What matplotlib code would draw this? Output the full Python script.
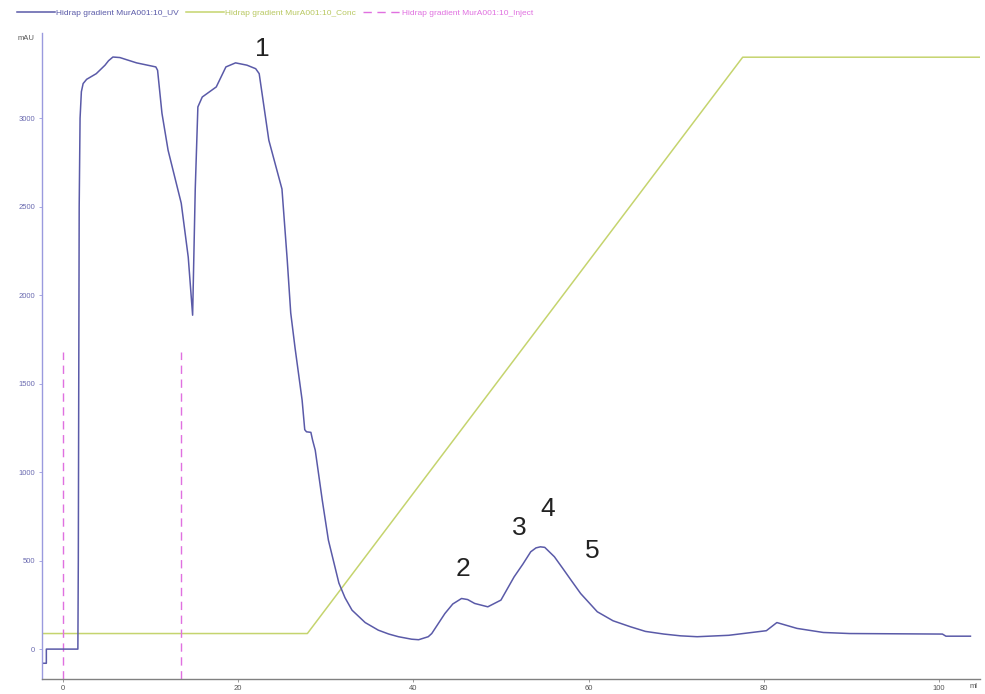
import matplotlib
matplotlib.use('Agg')
import matplotlib.pyplot as plt

# UV-Spur (ml, mAU)
uv_ml = [-2.4, -1.9, -1.9, 1.5, 1.7, 1.75, 1.8, 1.85, 1.95, 2.1, 2.3, 2.7, 3.8, 4.8, 5.2,
         5.7, 6.5, 7.0, 8.4, 10.6, 10.8, 11.3, 12.0, 13.5, 14.3, 14.8, 15.1, 15.4, 15.9,
         17.5, 18.6, 19.7, 21.0, 22.0, 22.4, 23.5, 25.0, 25.6, 26.0, 26.5, 27.3, 27.6,
         27.8, 28.3, 28.5, 28.8, 29.6, 30.3, 31.5, 32.2, 33.0, 34.5, 36.0, 37.2, 38.3,
         39.8, 40.6, 41.7, 42.1, 43.6, 44.5, 45.5, 46.2, 47.0, 48.5, 50.0, 51.5, 52.5,
         53.4, 54.0, 54.5, 55.0, 56.1, 57.0, 58.0, 59.1, 61.0, 62.8, 64.8, 66.5, 68.6,
         70.5, 72.4, 76.0, 80.3, 81.5, 83.8, 86.8, 89.8, 100.4, 100.8, 103.6]
uv_mau = [-80, -80, 0, 0, 0, 500, 1500, 2500, 3000, 3150, 3196, 3220, 3252, 3300, 3325,
          3346, 3343, 3335, 3313, 3290, 3271, 3028, 2819, 2520, 2215, 1887, 2600, 3064, 3120,
          3177, 3290, 3313, 3300, 3280, 3252, 2876, 2600, 2200, 1900, 1700, 1407, 1240,
          1228, 1225, 1180, 1124, 842, 616, 373, 290, 220, 150, 107, 85, 70,
          56, 53, 70, 88, 201, 255, 286, 280, 258, 239, 277, 408, 480,
          550, 572, 578, 575, 522, 460, 390, 314, 211, 160, 126, 100, 85,
          75, 70, 78, 104, 150, 117, 94, 88, 85, 73, 73]

# Gradient (Conc), in mAU-Skala dargestellt
conc_ml = [-2.2, 27.9, 77.6, 104.7]
conc_val = [88, 88, 3345, 3345]

# Injektionsmarken
inject_ml = [0.0, 13.5]
inject_top = 1680

# Peak-Nummern
peak_labels = ['1', '2', '3', '4', '5']
peak_ml = [22.7, 45.7, 52.1, 55.3, 60.4]
peak_mau = [3390, 450, 685, 791, 554]

x_ticks = [0, 20, 40, 60, 80, 100]
y_ticks = [0, 500, 1000, 1500, 2000, 2500, 3000]

uv_color = '#5a5aa8'
conc_color = '#c5d46e'
inject_color = '#e070e0'

plt.rcParams['font.family'] = ['Liberation Sans', 'DejaVu Sans']

fig = plt.figure(figsize=(9.85, 6.94), dpi=100)
ax = fig.add_axes([0.0426, 0.0216, 0.9524, 0.9304])

ax.plot(conc_ml, conc_val, color=conc_color, lw=1.1,
        label='Hidrap gradient MurA001:10_Conc')
ax.vlines(inject_ml, -169, inject_top, colors=inject_color, linestyles=(0, (6, 4)),
          lw=1.0, label='Hidrap gradient MurA001:10_Inject')
ax.plot(uv_ml, uv_mau, color=uv_color, lw=1.1, label='Hidrap gradient MurA001:10_UV')

for lab, xm, ym in zip(peak_labels, peak_ml, peak_mau):
    ax.text(xm, ym, lab, fontsize=19, ha='center', va='center', color='#222222')

ax.set_xlim(-2.4, 104.7)
ax.set_ylim(-169, 3480)
ax.set_xticks(x_ticks)
ax.set_yticks(y_ticks)
ax.tick_params(axis='x', labelsize=5.5, labelcolor='#555555', color='#888888',
               length=2, width=0.6, pad=2)
ax.tick_params(axis='y', labelsize=5.5, labelcolor='#6a6ab0', color='#9a9ade',
               length=2, width=0.6, pad=3)
for s in ['top', 'right']:
    ax.spines[s].set_visible(False)
ax.spines['left'].set_color('#9a9ade')
ax.spines['left'].set_linewidth(1.0)
ax.spines['bottom'].set_color('#808080')
ax.spines['bottom'].set_linewidth(1.0)

fig.text(18 / 985, 1 - 38 / 694, 'mAU', fontsize=5.5, color='#555555', va='center')
fig.text(970 / 985, 1 - 687 / 694, 'ml', fontsize=5.5, color='#555555', va='center')

# Legende oben
handles, labels = ax.get_legend_handles_labels()
order = [2, 0, 1]
leg = fig.legend([handles[i] for i in order], [labels[i] for i in order],
                 loc='center left', bbox_to_anchor=(0.017, 1 - 13 / 694), ncol=3,
                 frameon=False, borderaxespad=0, borderpad=0,
                 fontsize=6, handlelength=4.6, handletextpad=0.15, columnspacing=0.8)
for txt, c in zip(leg.get_texts(), [uv_color, '#b8c860', inject_color]):
    txt.set_color(c)

fig.savefig('out.png', dpi=100)
